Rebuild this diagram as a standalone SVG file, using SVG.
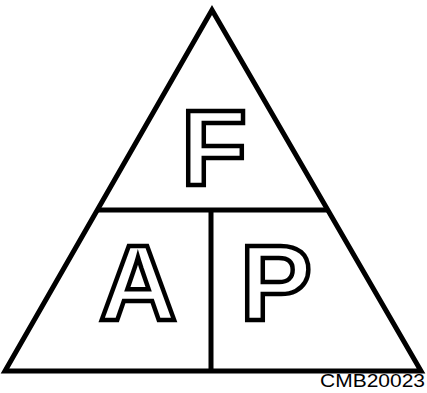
<svg xmlns="http://www.w3.org/2000/svg" width="427" height="393" viewBox="0 0 427 393">
<style>
.frame{fill:none;stroke:#000;stroke-width:5;stroke-linejoin:miter}
.div{stroke:#000;stroke-width:5}
.big{font-family:"Liberation Sans",Arial,sans-serif;font-weight:bold;font-size:108px;fill:#fff;stroke:#000;stroke-width:4.5;text-anchor:middle}
.tag{font-family:"Liberation Sans",Arial,sans-serif;font-size:19px;fill:#000}
</style>
<rect width="427" height="393" fill="#fff"/>
<g id="connectors">
<polygon class="frame" points="212,10 5,371 421,371"/>
<line class="div" x1="96" y1="210" x2="328" y2="210"/>
<line class="div" x1="211" y1="210" x2="211" y2="371"/>
</g>
<g id="node-F"><text class="big" x="214" y="185">F</text></g>
<g id="node-A"><text class="big" x="138" y="320">A</text></g>
<g id="node-P"><text class="big" x="276" y="320">P</text></g>
<g id="label"><text class="tag" x="320" y="387" textLength="105" lengthAdjust="spacingAndGlyphs">CMB20023</text></g>
</svg>
